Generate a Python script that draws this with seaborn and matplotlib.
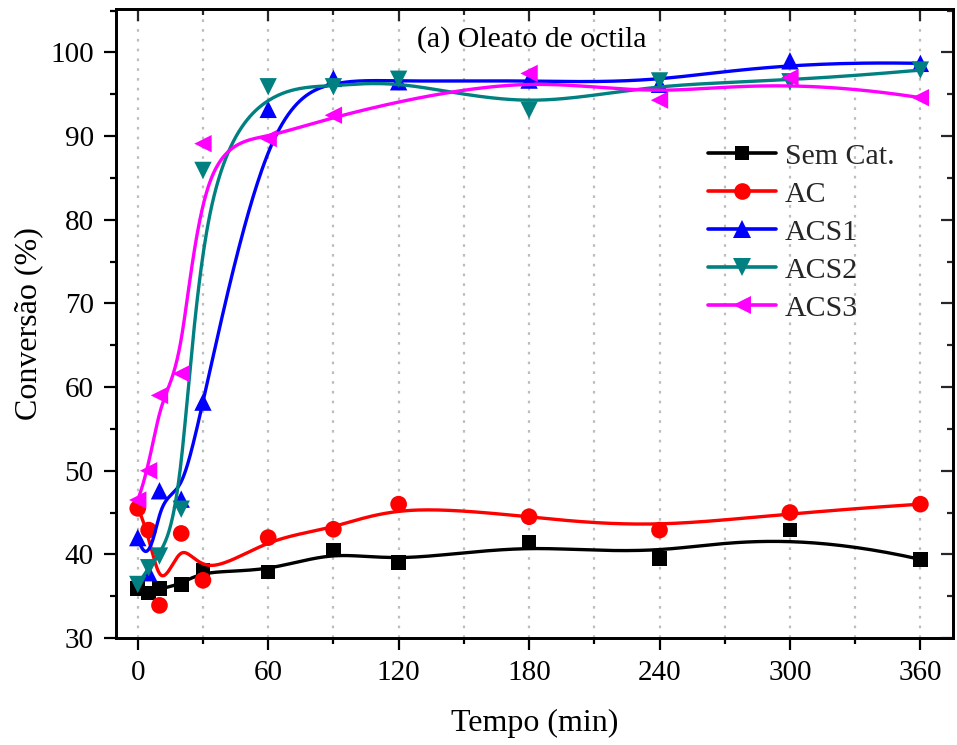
import numpy as np
import pandas as pd
import matplotlib
matplotlib.use("Agg")
import matplotlib.pyplot as plt
import seaborn as sns
from matplotlib.lines import Line2D
from matplotlib.ticker import MultipleLocator

# ---------------- data ----------------
tempo = [0, 5, 10, 20, 30, 60, 90, 120, 180, 240, 300, 360]
sem_cat = [35.9, 35.4, 35.9, 36.4, 38.1, 37.9, 40.5, 39.0, 41.4, 39.5, 42.9, 39.4]
ac = [45.5, 42.9, 33.9, 42.5, 36.9, 42.0, 43.0, 46.0, 44.5, 42.9, 45.0, 46.0]
acs1 = [42.0, 37.8, 47.6, 46.6, 58.2, 93.2, 96.9, 96.5, 96.7, 96.2, 99.0, 98.7]
acs2 = [36.4, 38.4, 39.8, 45.4, 85.9, 95.9, 95.9, 96.8, 93.1, 96.6, 96.5, 97.9]
tempo_acs3 = [0, 5, 10, 20, 30, 60, 90, 180, 240, 300, 360]
acs3 = [46.5, 50.0, 59.0, 61.6, 89.1, 89.7, 92.5, 97.5, 94.3, 97.0, 94.6]

series_names = ["Sem Cat.", "AC", "ACS1", "ACS2", "ACS3"]
series_x = [tempo, tempo, tempo, tempo, tempo_acs3]
series_y = [sem_cat, ac, acs1, acs2, acs3]
colors = ["#000000", "#FF0000", "#0000FF", "#008080", "#FF00FF"]
markers = ["s", "o", "^", "v", "<"]
msizes = [10.5, 12, 12.5, 12.5, 12.5]


def bspline_curve(px, py, npts=400, k=3):
    """Clamped uniform B-spline using the data points as control points."""
    P = np.column_stack([px, py]).astype(float)
    n = len(P)
    inner = np.arange(1, n - k)
    knots = np.concatenate([np.zeros(k + 1), inner, np.full(k + 1, n - k)]).astype(float)
    t = np.linspace(0, n - k, npts)
    t[-1] -= 1e-9
    B = np.zeros((npts, len(knots) - 1))
    for i in range(len(knots) - 1):
        B[:, i] = ((t >= knots[i]) & (t < knots[i + 1])).astype(float)
    for d in range(1, k + 1):
        Bn = np.zeros((npts, len(knots) - 1 - d))
        for i in range(len(knots) - 1 - d):
            a = knots[i + d] - knots[i]
            b = knots[i + d + 1] - knots[i + 1]
            term = np.zeros(npts)
            if a > 0:
                term += (t - knots[i]) / a * B[:, i]
            if b > 0:
                term += (knots[i + d + 1] - t) / b * B[:, i + 1]
            Bn[:, i] = term
        B = Bn
    C = B @ P
    return C[:, 0], C[:, 1]


sns.set_theme(style="white")
plt.rcParams["font.family"] = ["Liberation Serif", "DejaVu Serif"]

fig = plt.figure(figsize=(9.57, 7.45), dpi=100)
ax = fig.add_axes([116 / 957, 1 - 638 / 745, (953 - 116) / 957, (638 - 9) / 745])

# vertical dotted grid
for gx in np.arange(0, 361, 30):
    ax.axvline(gx, color="#BDBDBD", lw=1.6, ls=(0, (1.2, 3.2)), zorder=0)

handles = []
for i, (name, xs, ys, c, m, ms) in enumerate(zip(series_names, series_x, series_y, colors, markers, msizes)):
    cx, cy = bspline_curve(xs, ys)
    df_c = pd.DataFrame({"x": cx, "y": cy})
    sns.lineplot(data=df_c, x="x", y="y", sort=False, estimator=None, color=c, lw=2.4,
                 ax=ax, zorder=2 + 2 * i)
    df_p = pd.DataFrame({"x": xs, "y": ys})
    sns.scatterplot(data=df_p, x="x", y="y", marker=m, s=ms ** 2, color=c, edgecolor="none",
                    linewidth=0, ax=ax, zorder=3 + 2 * i)
    handles.append(Line2D([0], [0], color=c, lw=2.6, marker=m, markersize=ms,
                          markeredgewidth=0))

ax.set_xlim(-10, 375)
ax.set_ylim(30, 105.2)
ax.set_xticks(np.arange(0, 361, 60))
ax.set_yticks(np.arange(30, 101, 10))
ax.xaxis.set_minor_locator(MultipleLocator(30))
ax.yaxis.set_minor_locator(MultipleLocator(5))
ax.tick_params(axis="both", which="major", direction="out", length=8.6, width=1.6,
               labelsize=21, color="black", pad=7.5)
ax.tick_params(axis="both", which="minor", direction="out", length=4.6, width=1.6, color="black")
ax.tick_params(axis="both", labelcolor="black")

for sp in ax.spines.values():
    sp.set_color("black")
    sp.set_linewidth(1.8)

# top / right inward ticks
axt = ax.twiny()
axt.set_xlim(ax.get_xlim())
axt.set_xticks(np.arange(0, 361, 60))
axt.xaxis.set_minor_locator(MultipleLocator(30))
axt.tick_params(axis="x", which="major", direction="in", length=8.6, width=1.6, labeltop=False, top=True)
axt.tick_params(axis="x", which="minor", direction="in", length=4.6, width=1.6, top=True)
axt.grid(False)
axr = ax.twinx()
axr.set_ylim(ax.get_ylim())
axr.set_yticks(np.arange(30, 101, 10))
axr.yaxis.set_minor_locator(MultipleLocator(5))
axr.tick_params(axis="y", which="major", direction="in", length=8.6, width=1.6, labelright=False, right=True)
axr.tick_params(axis="y", which="minor", direction="in", length=4.6, width=1.6, right=True)
axr.grid(False)
for a in (axt, axr):
    for sp in a.spines.values():
        sp.set_color("black")
        sp.set_linewidth(1.8)

ax.set_xlabel("Tempo (min)", fontsize=23, labelpad=16, color="black")
ax.set_ylabel("Conversão (%)", fontsize=23, labelpad=5, color="black")

ax.text(0.497, 0.951, "(a) Oleato de octila", transform=ax.transAxes, ha="center", va="center",
        fontsize=21.5, color="black")

leg = ax.legend(handles, series_names, loc="upper left", bbox_to_anchor=(0.707, 0.787),
                frameon=False, fontsize=21.5, handlelength=2.3, handletextpad=0.27,
                labelspacing=0.37, borderaxespad=0, borderpad=0)
leg.set_zorder(20)

fig.savefig("out.png", dpi=100)
